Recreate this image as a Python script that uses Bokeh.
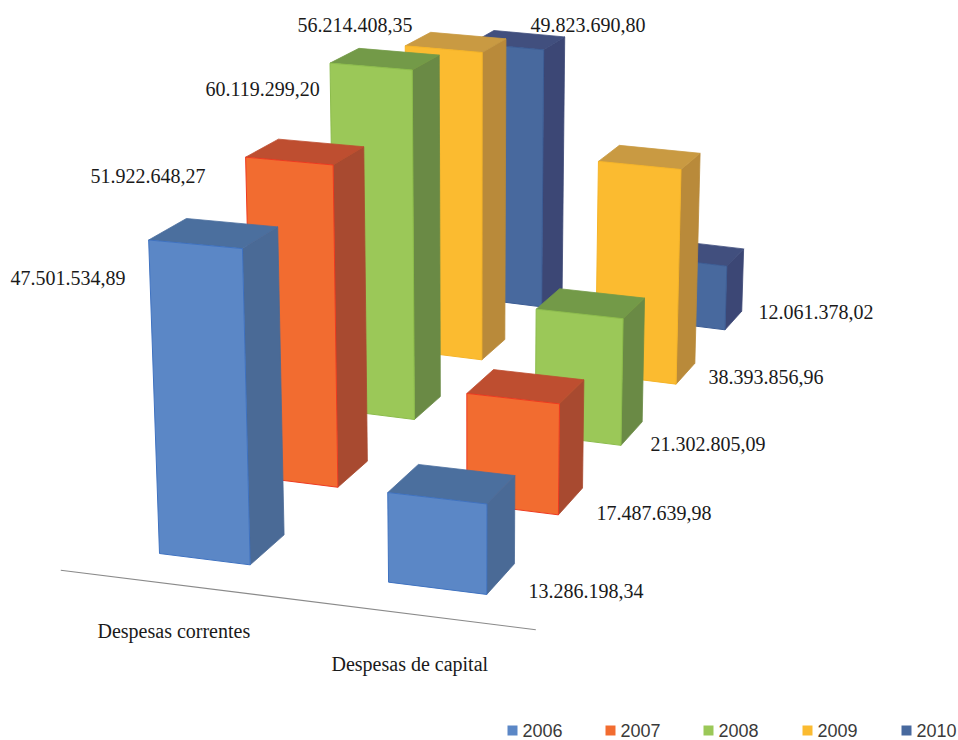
from bokeh.plotting import figure
from bokeh.models import Range1d, ColumnDataSource
from bokeh.core.properties import value
from bokeh.embed import file_html
from bokeh.resources import INLINE

# Expenditure by year and group
years = ["2006", "2007", "2008", "2009", "2010"]
categories = ["Despesas correntes", "Despesas de capital"]
correntes = [47501534.89, 51922648.27, 60119299.20, 56214408.35, 49823690.80]
capital = [13286198.34, 17487639.98, 21302805.09, 38393856.96, 12061378.02]

# Face colours per year: front, side, top, front outline
front_colors = ["#5B87C6", "#F26C30", "#9BC858", "#FBBB30", "#48699E"]
side_colors = ["#4A6A96", "#A84A30", "#6A8A45", "#B98A3A", "#3C4775"]
top_colors = ["#4B6F9E", "#BE4E30", "#739A48", "#C99A42", "#414F7E"]
edge_colors = ["#3F72C0", "#EE3A20", "#8CBC4C", "#F5B428", "#3C5C94"]

# Camera: perspective floor with a vanishing point, values scaled by depth
VANISH_X, VANISH_Y = 1545.0, -582.0
DEPTH_RATE = 0.0726
PX_PER_UNIT = 6.6e-6
WIDTH_GAIN = 0.009
PLUMB_X, PLUMB_D = 470.0, 9000.0
BAR_DEPTH = 0.37
CATEGORY_SPANS = [(0.0, 0.97), (2.45, 3.5)]
AXIS_SPAN = (-0.71, 4.26)
AXIS_DEPTH = -0.3


def floor_point(u, v):
    x0 = 159.0 + 93.5 * u
    y0 = 553.0 + 11.7 * u
    t = DEPTH_RATE * v / (1.0 + DEPTH_RATE * v)
    return x0 + (VANISH_X - x0) * t, y0 + (VANISH_Y - y0) * t


def project(u, v, amount):
    bx, by = floor_point(u, v)
    rise = PX_PER_UNIT * amount * (1.0 + WIDTH_GAIN * u) / (1.0 + DEPTH_RATE * v)
    return bx + (bx - PLUMB_X) * rise / PLUMB_D, by - rise


def face(points):
    return [p[0] for p in points], [p[1] for p in points]


def label_text(amount):
    return f"{amount:,.2f}".replace(",", "#").replace(".", ",").replace("#", ".")


p = figure(width=958, height=740, x_range=Range1d(0, 958), y_range=Range1d(740, 0),
           output_backend="svg", toolbar_location=None, min_border=0,
           outline_line_color=None, background_fill_color="white")
p.axis.visible = False
p.grid.visible = False

# Category axis on the floor
ax0 = floor_point(AXIS_SPAN[0], AXIS_DEPTH)
ax1 = floor_point(AXIS_SPAN[1], AXIS_DEPTH)
p.line([ax0[0], ax1[0]], [ax0[1], ax1[1]], line_color="#8A8A8A", line_width=1.2)

# Bars are painted from the farthest year to the nearest
for i in reversed(range(len(years))):
    for series, (u0, u1) in zip((correntes, capital), CATEGORY_SPANS):
        amount = series[i]
        v0, v1 = i, i + BAR_DEPTH
        fbl, fbr = project(u0, v0, 0), project(u1, v0, 0)
        bbr = project(u1, v1, 0)
        ftl, ftr = project(u0, v0, amount), project(u1, v0, amount)
        btl, btr = project(u0, v1, amount), project(u1, v1, amount)
        xs, ys = face([fbr, bbr, btr, ftr])
        p.patch(xs, ys, fill_color=side_colors[i], line_color=side_colors[i], line_width=0.8)
        xs, ys = face([ftl, ftr, btr, btl])
        p.patch(xs, ys, fill_color=top_colors[i], line_color=top_colors[i], line_width=0.8)
        xs, ys = face([fbl, fbr, ftr, ftl])
        p.patch(xs, ys, fill_color=front_colors[i], line_color=edge_colors[i], line_width=1)

# Value labels
serif = value("Liberation Serif")
label_x = [10, 90, 205, 297, 530, 528, 596, 650, 708, 758]
label_y = [277, 175, 88, 24, 24, 590, 512, 443, 376, 311]
label_src = ColumnDataSource(dict(x=label_x, y=label_y,
                                  t=[label_text(a) for a in correntes + capital]))
p.text("x", "y", text="t", source=label_src, text_font=serif, text_font_size="20px",
       text_color="#1A1A1A", text_baseline="middle", text_align="left")

# Category labels
cat_src = ColumnDataSource(dict(x=[97, 331], y=[630, 663], t=categories))
p.text("x", "y", text="t", source=cat_src, text_font=serif, text_font_size="20px",
       text_color="#1A1A1A", text_baseline="middle", text_align="left")

# Legend row
legend_x = [507, 605, 703, 802, 901]
legend_src = ColumnDataSource(dict(x=[x + 5 for x in legend_x], tx=[x + 15 for x in legend_x],
                                   y=[730] * 5, t=years, c=front_colors))
p.rect("x", "y", width=10, height=10, source=legend_src, fill_color="c", line_color=None)
p.text("tx", "y", text="t", source=legend_src, text_font=value("Liberation Sans"),
       text_font_size="18px", text_color="#3A3A3A", text_baseline="middle", text_align="left")

open("out.html", "w").write(file_html(p, INLINE))
